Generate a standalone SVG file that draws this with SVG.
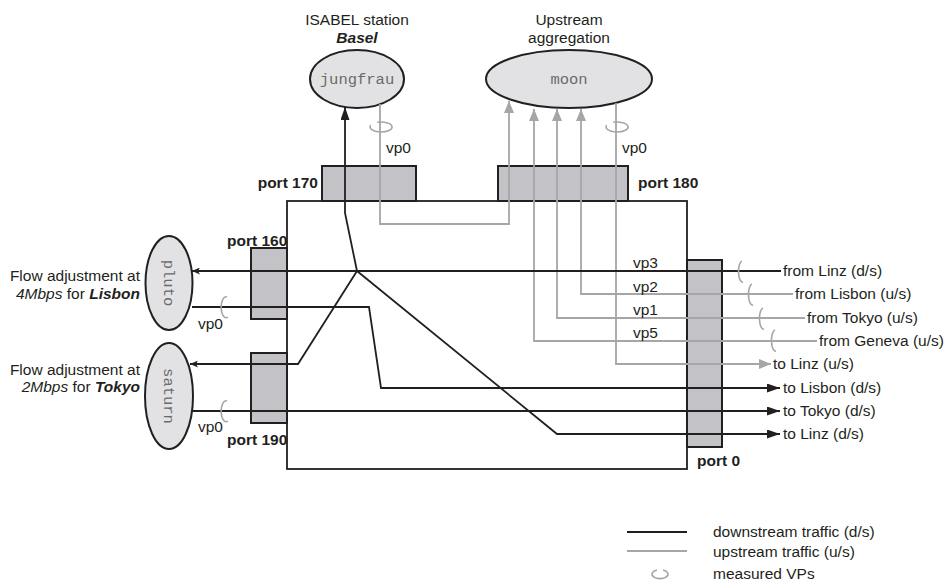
<svg xmlns="http://www.w3.org/2000/svg" width="947" height="588" viewBox="0 0 947 588">
<style>
text{font-family:"Liberation Sans",Arial,sans-serif;font-size:15.5px;fill:#231f20}
.b{font-weight:bold}
.bi{font-weight:bold;font-style:italic}
.i{font-style:italic}
.mono{font-family:"Liberation Mono","Courier New",monospace;font-size:15.5px;fill:#6a6a6a}
.port{fill:#c3c3c7;stroke:#231f20;stroke-width:2}
.node{fill:#e2e2e4;stroke:#231f20;stroke-width:2}
.dn{fill:none;stroke:#231f20;stroke-width:1.8}
.up{fill:none;stroke:#a6a6a6;stroke-width:1.8}
.loop{fill:none;stroke:#a6a6a6;stroke-width:1.6}
</style>
<defs>
<marker id="ab" markerUnits="userSpaceOnUse" markerWidth="13" markerHeight="9" refX="13" refY="4.5" orient="auto"><path d="M0,0 L13,4.5 L0,9 z" fill="#231f20"/></marker>
<marker id="ag" markerUnits="userSpaceOnUse" markerWidth="12" markerHeight="10" refX="12" refY="5" orient="auto"><path d="M0,0 L12,5 L0,10 z" fill="#a6a6a6"/></marker>
<marker id="as" markerUnits="userSpaceOnUse" markerWidth="8" markerHeight="7" refX="8" refY="3.5" orient="auto"><path d="M0,0 L8,3.5 L0,7 L2,3.5 z" fill="#231f20"/></marker>
</defs>

<g id="switch"><rect x="287" y="201" width="400" height="268" fill="#fff" stroke="#231f20" stroke-width="1.8"/></g>

<g id="port170"><rect class="port" x="322" y="166" width="94" height="35"/><text class="b" x="318" y="188" text-anchor="end">port 170</text></g>
<g id="port180"><rect class="port" x="498" y="166" width="130" height="35"/><text class="b" x="638" y="188">port 180</text></g>
<g id="port160"><rect class="port" x="251" y="248" width="36" height="71"/><text class="b" x="227" y="246">port 160</text></g>
<g id="port190"><rect class="port" x="251" y="353" width="36" height="70"/><text class="b" x="227" y="445">port 190</text></g>
<g id="port0"><rect class="port" x="687" y="260" width="35" height="187"/><text class="b" x="697" y="466">port 0</text></g>

<g id="jungfrau"><ellipse class="node" cx="357" cy="79" rx="47" ry="29"/><text class="mono" x="357" y="84" text-anchor="middle">jungfrau</text>
<text x="357" y="25" text-anchor="middle">ISABEL station</text><text class="bi" x="357" y="43" text-anchor="middle">Basel</text></g>
<g id="moon"><ellipse class="node" cx="569" cy="79" rx="83" ry="29"/><text class="mono" x="569" y="84" text-anchor="middle">moon</text>
<text x="569" y="25" text-anchor="middle">Upstream</text><text x="569" y="43" text-anchor="middle">aggregation</text></g>
<g id="pluto"><ellipse class="node" cx="169" cy="283" rx="23.5" ry="47"/><text class="mono" transform="translate(164,283) rotate(90)" text-anchor="middle">pluto</text>
<text x="140" y="281" text-anchor="end">Flow adjustment at</text><text x="140" y="299" text-anchor="end"><tspan class="i">4Mbps</tspan> for <tspan class="bi">Lisbon</tspan></text></g>
<g id="saturn"><ellipse class="node" cx="169" cy="396" rx="24" ry="53"/><text class="mono" transform="translate(164,396) rotate(90)" text-anchor="middle">saturn</text>
<text x="140" y="375" text-anchor="end">Flow adjustment at</text><text x="140" y="392" text-anchor="end"><tspan class="i">2Mbps</tspan> for <tspan class="bi">Tokyo</tspan></text></g>

<g id="connectors">
<path class="up" d="M380,104 L380,224 L509,224 L509,101" marker-end="url(#ag)"/>
<path class="up" d="M817,341 L534,341 L534,109" marker-end="url(#ag)"/>
<path class="up" d="M805,318 L557,318 L557,109" marker-end="url(#ag)"/>
<path class="up" d="M793,294 L581,294 L581,109" marker-end="url(#ag)"/>
<path class="up" d="M616,103 L616,364 L771,364" marker-end="url(#ag)"/>
<path class="dn" d="M781,271 L192,271" marker-end="url(#as)"/>
<path class="dn" d="M357,271 L345,213 L345,107" marker-end="url(#ab)"/>
<path class="dn" d="M357,271 L298,364 L190,364" marker-end="url(#as)"/>
<path class="dn" d="M357,271 L557,434 L780,434" marker-end="url(#ab)"/>
<path class="dn" d="M192,307 L369,307 L381,388 L780,388" marker-end="url(#ab)"/>
<path class="dn" d="M192,411 L780,411" marker-end="url(#ab)"/>
</g>

<g id="loops">
<path class="loop" d="M377.2,122.3 A11 5 0 1 1 370.7,125.3"/>
<path class="loop" d="M613.2,122.3 A11 5 0 1 1 606.7,125.3"/>
<path class="loop" d="M227,297 A5 10.5 0 1 0 228,317"/>
<path class="loop" d="M227,401 A5 10.5 0 1 0 228,421"/>
<path class="loop" d="M742,261 A4 10.5 0 1 0 743,282"/>
<path class="loop" d="M752,284 A4 10.5 0 1 0 753,305"/>
<path class="loop" d="M763,308 A4 10.5 0 1 0 764,329"/>
<path class="loop" d="M775,330 A4 10.5 0 1 0 776,351"/>
</g>

<g id="labels">
<text x="386" y="153">vp0</text>
<text x="622" y="153">vp0</text>
<text x="198" y="329">vp0</text>
<text x="198" y="432">vp0</text>
<text x="633" y="268">vp3</text>
<text x="633" y="292">vp2</text>
<text x="633" y="315">vp1</text>
<text x="633" y="338">vp5</text>
<text x="783" y="276">from Linz (d/s)</text>
<text x="795" y="299">from Lisbon (u/s)</text>
<text x="807" y="323">from Tokyo (u/s)</text>
<text x="819" y="346">from Geneva (u/s)</text>
<text x="773" y="369">to Linz (u/s)</text>
<text x="783" y="393">to Lisbon (d/s)</text>
<text x="783" y="416">to Tokyo (d/s)</text>
<text x="783" y="439">to Linz (d/s)</text>
</g>

<g id="legend">
<line x1="627" y1="532" x2="687" y2="532" stroke="#231f20" stroke-width="2"/>
<line x1="627" y1="551" x2="687" y2="551" stroke="#a6a6a6" stroke-width="2"/>
<path class="loop" d="M657,570 A8 4.5 0 1 0 663,570"/>
<text x="713" y="537">downstream traffic (d/s)</text>
<text x="713" y="557">upstream traffic (u/s)</text>
<text x="713" y="579">measured VPs</text>
</g>
</svg>
